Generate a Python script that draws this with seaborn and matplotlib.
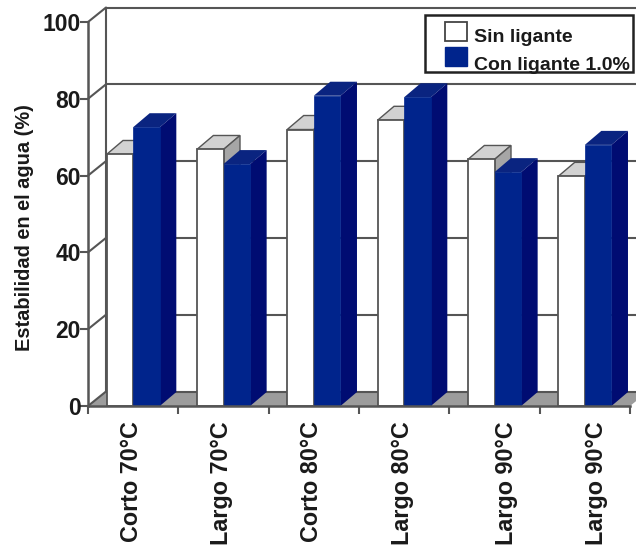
import matplotlib
matplotlib.use("Agg")
import matplotlib.pyplot as plt
import pandas as pd
import seaborn as sns
from matplotlib.patches import Polygon, Rectangle
from matplotlib.ticker import FixedLocator
from matplotlib.transforms import ScaledTranslation

# Water stability per treatment
group_ids = [0, 1, 2, 3, 4, 5]
categories = ["Corto 70°C", "Largo 70°C", "Corto 80°C", "Largo 80°C", "Largo 90°C", "Largo 90°C"]
sin_ligante = [65.5, 66.8, 72.0, 74.4, 64.2, 59.8]
con_ligante = [72.6, 63.0, 80.8, 80.4, 60.9, 68.0]
series_names = ["Sin ligante", "Con ligante 1.0%"]

W, H = 636, 548
sns.set_theme(style="white")
plt.rcParams["font.family"] = ["Liberation Sans", "DejaVu Sans"]
plt.rcParams["font.weight"] = "bold"

df = pd.DataFrame({
    "grupo": group_ids * 2,
    "serie": [series_names[0]] * 6 + [series_names[1]] * 6,
    "valor": sin_ligante + con_ligante,
})

fig = plt.figure(figsize=(W / 100, H / 100), dpi=100)
ax = fig.add_axes([88 / W, (H - 406) / H, 542 / W, 384 / H])

WHITE, BLUE = "#ffffff", "#00248c"
sns.barplot(data=df, x="grupo", y="valor", hue="serie", order=group_ids,
            hue_order=series_names, palette=[WHITE, BLUE], gap=0, width=0.59,
            saturation=1, ax=ax, legend=True, zorder=3)
ax.set_xlim(-0.5, 5.5)
ax.set_ylim(0, 100)

# Pseudo-3D depth, expressed in data units
WALL_DX, WALL_DY = 18 / 90.33, 14.5 / 3.84
BAR_DX, BAR_DY = 16.5 / 90.33, 14 / 3.84
LINE = "#555555"
INK = "#1a1a1a"

# Back wall, floor and side wall
x0, x1 = -0.5, 5.5
ax.add_patch(Polygon([(x0, 0), (x0 + WALL_DX, WALL_DY), (x1 + WALL_DX, WALL_DY), (x1, 0)],
                     closed=True, fc="#9c9c9c", ec="none", zorder=1, clip_on=False))
for v in [0, 20, 40, 60, 80, 100]:
    ax.plot([x0 + WALL_DX, x1 + WALL_DX], [v + WALL_DY] * 2, color=LINE, lw=1.5,
            zorder=1.5, clip_on=False)
    ax.plot([x0, x0 + WALL_DX], [v, v + WALL_DY], color=LINE, lw=1.5,
            zorder=1.5, clip_on=False)
ax.plot([x0 + WALL_DX] * 2, [WALL_DY, 100 + WALL_DY], color=LINE, lw=1.5, zorder=1.5, clip_on=False)

# Extrude each bar: top and side faces behind its front
faces = {0: ("#d2d2d2", "#a6a6a6"), 1: ("#0a2480", "#000c72")}
for s, container in enumerate(ax.containers):
    top_c, side_c = faces[s]
    for i, bar in enumerate(container):
        base_z = 3 + i + s * 0.5
        xa, w, h = bar.get_x(), bar.get_width(), bar.get_height()
        xb = xa + w
        top = Polygon([(xa, h), (xa + BAR_DX, h + BAR_DY), (xb + BAR_DX, h + BAR_DY), (xb, h)],
                      closed=True, fc=top_c, ec=LINE if s == 0 else "none", lw=1, zorder=base_z)
        side = Polygon([(xb, 0), (xb + BAR_DX, BAR_DY), (xb + BAR_DX, h + BAR_DY), (xb, h)],
                       closed=True, fc=side_c, ec=LINE if s == 0 else "none", lw=1, zorder=base_z)
        ax.add_patch(top)
        ax.add_patch(side)
        bar.set_zorder(base_z + 0.1)
        bar.set_edgecolor(LINE if s == 0 else BLUE)
        bar.set_linewidth(1.3 if s == 0 else 0.5)

# Axes
for name in ["top", "right"]:
    ax.spines[name].set_visible(False)
for name in ["left", "bottom"]:
    ax.spines[name].set_color(LINE)
    ax.spines[name].set_linewidth(1.8)
    ax.spines[name].set_zorder(20)

ax.set_yticks([0, 20, 40, 60, 80, 100])
ax.tick_params(axis="y", which="major", left=True, length=6, width=1.5, color=LINE,
               labelsize=16.5, pad=-1, labelcolor=INK)
ax.set_ylabel("Estabilidad en el agua (%)", fontsize=14.4, fontweight="bold", color=INK)
ax.yaxis.set_label_coords((34.5 - 88) / 542, (406 - 228) / 384)

ax.set_xlabel("")
ax.xaxis.set_major_locator(FixedLocator(group_ids))
ax.set_xticklabels(categories, rotation=90, fontsize=16.8, fontweight="bold", color=INK)
ax.xaxis.set_minor_locator(FixedLocator([-0.5, 0.5, 1.5, 2.5, 3.5, 4.5, 5.5]))
ax.tick_params(axis="x", which="major", bottom=False, pad=5)
ax.tick_params(axis="x", which="minor", bottom=True, length=6, width=1.5, color=LINE)

# Rotated labels sit a little off the group centres
offsets = [-2, -2, -2, -2, 12, 12]
for label, off in zip(ax.get_xticklabels(), offsets):
    label.set_transform(label.get_transform() + ScaledTranslation(off / 100, 0, fig.dpi_scale_trans))

# Legend entries, with the box drawn separately so its lower edge runs under the last label
leg = ax.legend(loc="upper left", bbox_to_anchor=(445 / W, (H - 26) / H),
                bbox_transform=fig.transFigure, fontsize=14, frameon=False,
                borderpad=0, labelspacing=0.42, handlelength=1.15, handleheight=1.1,
                handletextpad=0.35, borderaxespad=0)
leg.set_zorder(31)
first, second = leg.get_patches()
first.set_edgecolor("#444444")
first.set_linewidth(1.3)
first.set_y(first.get_y() + 2.9)
second.set_edgecolor(BLUE)
second.set_y(second.get_y() + 5.2)
for text in leg.get_texts():
    text.set_color(INK)
fig.add_artist(Rectangle((425 / W, (H - 72) / H), 208 / W, 57 / H, transform=fig.transFigure,
                         fc="white", ec="#222222", lw=1.8, zorder=10))
ax.set_zorder(20)
ax.patch.set_alpha(0)

fig.savefig("out.png", dpi=100)
